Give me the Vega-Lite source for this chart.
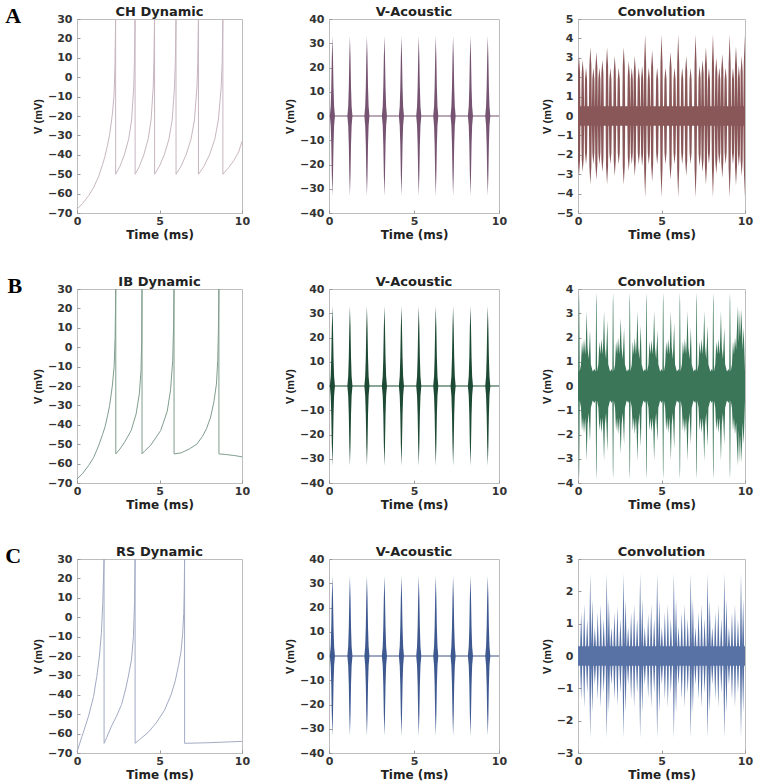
{
"$schema": "https://vega.github.io/schema/vega-lite/v6.json",
"padding": {"left": 5, "top": 4, "right": 5, "bottom": 2},
"background": "white",
"config": {
  "view": {"stroke": "#bdbdbd", "strokeWidth": 1},
  "axis": {"domain": false, "grid": false, "tickSize": -3, "tickColor": "#9a9a9a", "labelFlush": false, "labelOverlap": false,
           "labelFont": "DejaVu Sans", "labelFontWeight": "bold", "labelFontSize": 11, "labelColor": "#333333",
           "titleFont": "DejaVu Sans", "titleFontWeight": "bold", "titleFontSize": 12, "titleColor": "#222222"},
  "axisX": {"labelPadding": 5, "titlePadding": 3},
  "axisY": {"labelPadding": 8, "titlePadding": 4, "titleFont": "Liberation Sans", "titleFontSize": 11},
  "title": {"font": "DejaVu Sans", "fontWeight": "bold", "fontSize": 13, "color": "#222222", "offset": -6}
},
"datasets": {
"ch": [
{"t":0,"v":-68},{"t":0.35,"v":-65},{"t":0.71,"v":-61},{"t":1.0,"v":-57},{"t":1.32,"v":-51},{"t":1.55,"v":-45},{"t":1.69,"v":-41},{"t":1.85,"v":-35},{"t":1.97,"v":-30},{"t":2.13,"v":-20},{"t":2.24,"v":-10},{"t":2.3,"v":5},{"t":2.34,"v":30},
{"t":2.342,"v":-50},{"t":2.6,"v":-46},{"t":2.87,"v":-40},{"t":3.13,"v":-32},{"t":3.31,"v":-22},{"t":3.44,"v":-5},{"t":3.48,"v":8},{"t":3.52,"v":30},
{"t":3.522,"v":-50},{"t":3.78,"v":-46},{"t":4.05,"v":-40},{"t":4.31,"v":-32},{"t":4.49,"v":-22},{"t":4.62,"v":-5},{"t":4.66,"v":8},{"t":4.7,"v":30},
{"t":4.702,"v":-50},{"t":4.99,"v":-46},{"t":5.29,"v":-40},{"t":5.57,"v":-32},{"t":5.77,"v":-22},{"t":5.91,"v":-5},{"t":5.96,"v":8},{"t":6.0,"v":30},
{"t":6.002,"v":-50},{"t":6.3,"v":-46},{"t":6.61,"v":-40},{"t":6.91,"v":-32},{"t":7.12,"v":-22},{"t":7.27,"v":-5},{"t":7.32,"v":8},{"t":7.36,"v":30},
{"t":7.362,"v":-50},{"t":7.69,"v":-46},{"t":8.03,"v":-40},{"t":8.35,"v":-32},{"t":8.57,"v":-22},{"t":8.74,"v":-5},{"t":8.8,"v":8},{"t":8.84,"v":30},
{"t":8.842,"v":-50},{"t":9.2,"v":-46.5},{"t":9.5,"v":-43},{"t":9.8,"v":-38.5},{"t":10,"v":-33}
],
"ib": [
{"t":0,"v":-68},{"t":0.35,"v":-65},{"t":0.7,"v":-61},{"t":1.0,"v":-57},{"t":1.3,"v":-51},{"t":1.55,"v":-45},{"t":1.7,"v":-41},{"t":1.86,"v":-35},{"t":1.98,"v":-30},{"t":2.14,"v":-20},{"t":2.25,"v":-10},{"t":2.31,"v":5},{"t":2.35,"v":30},
{"t":2.352,"v":-55},{"t":2.6,"v":-52.5},{"t":2.88,"v":-49},{"t":3.28,"v":-43},{"t":3.58,"v":-34.5},{"t":3.78,"v":-24},{"t":3.88,"v":-12},{"t":3.92,"v":3},{"t":3.94,"v":30},
{"t":3.942,"v":-55},{"t":4.1,"v":-53.5},{"t":4.47,"v":-50.5},{"t":5.07,"v":-43},{"t":5.47,"v":-33},{"t":5.67,"v":-22},{"t":5.8,"v":-7},{"t":5.85,"v":10},{"t":5.88,"v":30},
{"t":5.882,"v":-55},{"t":6.3,"v":-54.5},{"t":6.8,"v":-52.5},{"t":7.26,"v":-50},{"t":7.6,"v":-46},{"t":7.85,"v":-42},{"t":8.1,"v":-36},{"t":8.3,"v":-28},{"t":8.45,"v":-19},{"t":8.53,"v":-7},{"t":8.57,"v":8},{"t":8.6,"v":30},
{"t":8.602,"v":-55},{"t":9.0,"v":-55.3},{"t":9.5,"v":-55.8},{"t":10,"v":-56.5}
],
"rs": [
{"t":0,"v":-69.5},{"t":0.3,"v":-61.5},{"t":0.7,"v":-51},{"t":1.0,"v":-41},{"t":1.2,"v":-30.5},{"t":1.36,"v":-20},{"t":1.48,"v":-8},{"t":1.56,"v":7},{"t":1.64,"v":30},
{"t":1.642,"v":-65},{"t":1.8,"v":-62},{"t":2.1,"v":-56},{"t":2.4,"v":-51},{"t":2.7,"v":-45},{"t":2.95,"v":-37},{"t":3.1,"v":-31},{"t":3.3,"v":-22},{"t":3.42,"v":-10},{"t":3.49,"v":8},{"t":3.52,"v":30},
{"t":3.522,"v":-65},{"t":3.8,"v":-63},{"t":4.3,"v":-59.5},{"t":4.8,"v":-54.5},{"t":5.3,"v":-48},{"t":5.7,"v":-40},{"t":5.95,"v":-33},{"t":6.15,"v":-25},{"t":6.3,"v":-18},{"t":6.4,"v":-9},{"t":6.47,"v":2},{"t":6.5,"v":14},{"t":6.52,"v":30},
{"t":6.522,"v":-65},{"t":8,"v":-64.7},{"t":10,"v":-64}
],
"ac": [
{"t":0,"h":0,"l":0},
{"t":0.05,"h":0,"l":0},{"t":0.1,"h":4,"l":-4},{"t":0.135,"h":12,"l":-12},{"t":0.165,"h":24,"l":-24},{"t":0.2,"h":33,"l":-33},{"t":0.235,"h":24,"l":-24},{"t":0.265,"h":12,"l":-12},{"t":0.3,"h":4,"l":-4},{"t":0.35,"h":0,"l":0},
{"t":1.08,"h":0,"l":0},{"t":1.13,"h":4,"l":-4},{"t":1.165,"h":12,"l":-12},{"t":1.195,"h":24,"l":-24},{"t":1.23,"h":33,"l":-33},{"t":1.265,"h":24,"l":-24},{"t":1.295,"h":12,"l":-12},{"t":1.33,"h":4,"l":-4},{"t":1.38,"h":0,"l":0},
{"t":2.08,"h":0,"l":0},{"t":2.13,"h":4,"l":-4},{"t":2.165,"h":12,"l":-12},{"t":2.195,"h":24,"l":-24},{"t":2.23,"h":33,"l":-33},{"t":2.265,"h":24,"l":-24},{"t":2.295,"h":12,"l":-12},{"t":2.33,"h":4,"l":-4},{"t":2.38,"h":0,"l":0},
{"t":3.11,"h":0,"l":0},{"t":3.16,"h":4,"l":-4},{"t":3.195,"h":12,"l":-12},{"t":3.225,"h":24,"l":-24},{"t":3.26,"h":33,"l":-33},{"t":3.295,"h":24,"l":-24},{"t":3.325,"h":12,"l":-12},{"t":3.36,"h":4,"l":-4},{"t":3.41,"h":0,"l":0},
{"t":4.11,"h":0,"l":0},{"t":4.16,"h":4,"l":-4},{"t":4.195,"h":12,"l":-12},{"t":4.225,"h":24,"l":-24},{"t":4.26,"h":33,"l":-33},{"t":4.295,"h":24,"l":-24},{"t":4.325,"h":12,"l":-12},{"t":4.36,"h":4,"l":-4},{"t":4.41,"h":0,"l":0},
{"t":5.13,"h":0,"l":0},{"t":5.18,"h":4,"l":-4},{"t":5.215,"h":12,"l":-12},{"t":5.245,"h":24,"l":-24},{"t":5.28,"h":33,"l":-33},{"t":5.315,"h":24,"l":-24},{"t":5.345,"h":12,"l":-12},{"t":5.38,"h":4,"l":-4},{"t":5.43,"h":0,"l":0},
{"t":6.13,"h":0,"l":0},{"t":6.18,"h":4,"l":-4},{"t":6.215,"h":12,"l":-12},{"t":6.245,"h":24,"l":-24},{"t":6.28,"h":33,"l":-33},{"t":6.315,"h":24,"l":-24},{"t":6.345,"h":12,"l":-12},{"t":6.38,"h":4,"l":-4},{"t":6.43,"h":0,"l":0},
{"t":7.15,"h":0,"l":0},{"t":7.2,"h":4,"l":-4},{"t":7.235,"h":12,"l":-12},{"t":7.265,"h":24,"l":-24},{"t":7.3,"h":33,"l":-33},{"t":7.335,"h":24,"l":-24},{"t":7.365,"h":12,"l":-12},{"t":7.4,"h":4,"l":-4},{"t":7.45,"h":0,"l":0},
{"t":8.17,"h":0,"l":0},{"t":8.22,"h":4,"l":-4},{"t":8.255,"h":12,"l":-12},{"t":8.285,"h":24,"l":-24},{"t":8.32,"h":33,"l":-33},{"t":8.355,"h":24,"l":-24},{"t":8.385,"h":12,"l":-12},{"t":8.42,"h":4,"l":-4},{"t":8.47,"h":0,"l":0},
{"t":9.19,"h":0,"l":0},{"t":9.24,"h":4,"l":-4},{"t":9.275,"h":12,"l":-12},{"t":9.305,"h":24,"l":-24},{"t":9.34,"h":33,"l":-33},{"t":9.375,"h":24,"l":-24},{"t":9.405,"h":12,"l":-12},{"t":9.44,"h":4,"l":-4},{"t":9.49,"h":0,"l":0},
{"t":10,"h":0,"l":0}
],
"cvA": [
{"t":0,"h":2.3,"l":-2.3},{"t":0.06,"h":3.1,"l":-3.1},{"t":0.12,"h":2.3,"l":-2.3},{"t":0.145,"h":0.5,"l":-0.5},
{"t":0.195,"h":0.5,"l":-0.5},{"t":0.22,"h":2.2,"l":-2.2},{"t":0.28,"h":2.9,"l":-2.9},{"t":0.34,"h":2.2,"l":-2.2},{"t":0.365,"h":0.5,"l":-0.5},
{"t":0.395,"h":0.5,"l":-0.5},{"t":0.42,"h":1.9,"l":-1.9},{"t":0.48,"h":2.5,"l":-2.5},{"t":0.54,"h":1.9,"l":-1.9},{"t":0.565,"h":0.5,"l":-0.5},
{"t":0.655,"h":0.5,"l":-0.5},{"t":0.68,"h":2.6,"l":-2.6},{"t":0.74,"h":3.55,"l":-3.55},{"t":0.8,"h":2.6,"l":-2.6},{"t":0.825,"h":0.5,"l":-0.5},
{"t":0.835,"h":0.5,"l":-0.5},{"t":0.86,"h":1.9,"l":-1.9},{"t":0.92,"h":2.5,"l":-2.5},{"t":0.98,"h":1.9,"l":-1.9},{"t":1.005,"h":0.5,"l":-0.5},
{"t":1.015,"h":0.5,"l":-0.5},{"t":1.04,"h":2.5,"l":-2.5},{"t":1.1,"h":3.3,"l":-3.3},{"t":1.16,"h":2.5,"l":-2.5},{"t":1.185,"h":0.5,"l":-0.5},
{"t":1.195,"h":0.5,"l":-0.5},{"t":1.22,"h":1.9,"l":-1.9},{"t":1.28,"h":2.5,"l":-2.5},{"t":1.34,"h":1.9,"l":-1.9},{"t":1.365,"h":0.5,"l":-0.5},
{"t":1.375,"h":0.5,"l":-0.5},{"t":1.4,"h":2.2,"l":-2.2},{"t":1.46,"h":2.9,"l":-2.9},{"t":1.52,"h":2.2,"l":-2.2},{"t":1.545,"h":0.5,"l":-0.5},
{"t":1.655,"h":0.5,"l":-0.5},{"t":1.68,"h":2.6,"l":-2.6},{"t":1.74,"h":3.55,"l":-3.55},{"t":1.8,"h":2.6,"l":-2.6},{"t":1.825,"h":0.5,"l":-0.5},
{"t":1.855,"h":0.5,"l":-0.5},{"t":1.88,"h":1.9,"l":-1.9},{"t":1.94,"h":2.5,"l":-2.5},{"t":2.0,"h":1.9,"l":-1.9},{"t":2.025,"h":0.5,"l":-0.5},
{"t":2.115,"h":0.5,"l":-0.5},{"t":2.14,"h":2.3,"l":-2.3},{"t":2.2,"h":3.1,"l":-3.1},{"t":2.26,"h":2.3,"l":-2.3},{"t":2.285,"h":0.5,"l":-0.5},
{"t":2.355,"h":0.5,"l":-0.5},{"t":2.38,"h":1.9,"l":-1.9},{"t":2.44,"h":2.5,"l":-2.5},{"t":2.5,"h":1.9,"l":-1.9},{"t":2.525,"h":0.5,"l":-0.5},
{"t":2.655,"h":0.5,"l":-0.5},{"t":2.68,"h":2.6,"l":-2.6},{"t":2.74,"h":3.55,"l":-3.55},{"t":2.8,"h":2.6,"l":-2.6},{"t":2.825,"h":0.5,"l":-0.5},
{"t":2.955,"h":0.5,"l":-0.5},{"t":2.98,"h":2.1,"l":-2.1},{"t":3.04,"h":2.85,"l":-2.85},{"t":3.1,"h":2.1,"l":-2.1},{"t":3.125,"h":0.5,"l":-0.5},
{"t":3.135,"h":0.5,"l":-0.5},{"t":3.16,"h":1.9,"l":-1.9},{"t":3.22,"h":2.5,"l":-2.5},{"t":3.28,"h":1.9,"l":-1.9},{"t":3.305,"h":0.5,"l":-0.5},
{"t":3.315,"h":0.5,"l":-0.5},{"t":3.34,"h":2.3,"l":-2.3},{"t":3.4,"h":3.1,"l":-3.1},{"t":3.46,"h":2.3,"l":-2.3},{"t":3.485,"h":0.5,"l":-0.5},
{"t":3.555,"h":0.5,"l":-0.5},{"t":3.58,"h":1.9,"l":-1.9},{"t":3.64,"h":2.5,"l":-2.5},{"t":3.7,"h":1.9,"l":-1.9},{"t":3.725,"h":0.5,"l":-0.5},
{"t":3.755,"h":0.5,"l":-0.5},{"t":3.78,"h":1.95,"l":-1.95},{"t":3.84,"h":2.6,"l":-2.6},{"t":3.9,"h":1.95,"l":-1.95},{"t":3.925,"h":0.5,"l":-0.5},
{"t":3.935,"h":0.5,"l":-0.5},{"t":3.96,"h":2.7,"l":-2.7},{"t":4.02,"h":4.2,"l":-4.2},{"t":4.08,"h":2.7,"l":-2.7},{"t":4.105,"h":0.5,"l":-0.5},
{"t":4.155,"h":0.5,"l":-0.5},{"t":4.18,"h":1.9,"l":-1.9},{"t":4.24,"h":2.5,"l":-2.5},{"t":4.3,"h":1.9,"l":-1.9},{"t":4.325,"h":0.5,"l":-0.5},
{"t":4.355,"h":0.5,"l":-0.5},{"t":4.38,"h":2.5,"l":-2.5},{"t":4.44,"h":3.4,"l":-3.4},{"t":4.5,"h":2.5,"l":-2.5},{"t":4.525,"h":0.5,"l":-0.5},
{"t":4.655,"h":0.5,"l":-0.5},{"t":4.68,"h":1.9,"l":-1.9},{"t":4.74,"h":2.5,"l":-2.5},{"t":4.8,"h":1.9,"l":-1.9},{"t":4.825,"h":0.5,"l":-0.5},
{"t":4.915,"h":0.5,"l":-0.5},{"t":4.94,"h":2.7,"l":-2.7},{"t":5.0,"h":4.2,"l":-4.2},{"t":5.06,"h":2.7,"l":-2.7},{"t":5.085,"h":0.5,"l":-0.5},
{"t":5.155,"h":0.5,"l":-0.5},{"t":5.18,"h":1.9,"l":-1.9},{"t":5.24,"h":2.5,"l":-2.5},{"t":5.3,"h":1.9,"l":-1.9},{"t":5.325,"h":0.5,"l":-0.5},
{"t":5.455,"h":0.5,"l":-0.5},{"t":5.48,"h":2.5,"l":-2.5},{"t":5.54,"h":3.3,"l":-3.3},{"t":5.6,"h":2.5,"l":-2.5},{"t":5.625,"h":0.5,"l":-0.5},
{"t":5.695,"h":0.5,"l":-0.5},{"t":5.72,"h":1.9,"l":-1.9},{"t":5.78,"h":2.5,"l":-2.5},{"t":5.84,"h":1.9,"l":-1.9},{"t":5.865,"h":0.5,"l":-0.5},
{"t":5.915,"h":0.5,"l":-0.5},{"t":5.94,"h":2.7,"l":-2.7},{"t":6.0,"h":4.2,"l":-4.2},{"t":6.06,"h":2.7,"l":-2.7},{"t":6.085,"h":0.5,"l":-0.5},
{"t":6.155,"h":0.5,"l":-0.5},{"t":6.18,"h":1.9,"l":-1.9},{"t":6.24,"h":2.5,"l":-2.5},{"t":6.3,"h":1.9,"l":-1.9},{"t":6.325,"h":0.5,"l":-0.5},
{"t":6.395,"h":0.5,"l":-0.5},{"t":6.42,"h":2.3,"l":-2.3},{"t":6.48,"h":3.1,"l":-3.1},{"t":6.54,"h":2.3,"l":-2.3},{"t":6.565,"h":0.5,"l":-0.5},
{"t":6.655,"h":0.5,"l":-0.5},{"t":6.68,"h":1.9,"l":-1.9},{"t":6.74,"h":2.5,"l":-2.5},{"t":6.8,"h":1.9,"l":-1.9},{"t":6.825,"h":0.5,"l":-0.5},
{"t":6.955,"h":0.5,"l":-0.5},{"t":6.98,"h":2.7,"l":-2.7},{"t":7.04,"h":4.2,"l":-4.2},{"t":7.1,"h":2.7,"l":-2.7},{"t":7.125,"h":0.5,"l":-0.5},
{"t":7.195,"h":0.5,"l":-0.5},{"t":7.22,"h":1.95,"l":-1.95},{"t":7.28,"h":2.6,"l":-2.6},{"t":7.34,"h":1.95,"l":-1.95},{"t":7.365,"h":0.5,"l":-0.5},
{"t":7.375,"h":0.5,"l":-0.5},{"t":7.4,"h":2.2,"l":-2.2},{"t":7.46,"h":2.9,"l":-2.9},{"t":7.52,"h":2.2,"l":-2.2},{"t":7.545,"h":0.5,"l":-0.5},
{"t":7.575,"h":0.5,"l":-0.5},{"t":7.6,"h":2.6,"l":-2.6},{"t":7.66,"h":3.55,"l":-3.55},{"t":7.72,"h":2.6,"l":-2.6},{"t":7.745,"h":0.5,"l":-0.5},
{"t":7.755,"h":0.5,"l":-0.5},{"t":7.78,"h":1.9,"l":-1.9},{"t":7.84,"h":2.5,"l":-2.5},{"t":7.9,"h":1.9,"l":-1.9},{"t":7.925,"h":0.5,"l":-0.5},
{"t":7.995,"h":0.5,"l":-0.5},{"t":8.02,"h":2.7,"l":-2.7},{"t":8.08,"h":4.2,"l":-4.2},{"t":8.14,"h":2.7,"l":-2.7},{"t":8.165,"h":0.5,"l":-0.5},
{"t":8.195,"h":0.5,"l":-0.5},{"t":8.22,"h":2.25,"l":-2.25},{"t":8.28,"h":3.0,"l":-3.0},{"t":8.34,"h":2.25,"l":-2.25},{"t":8.365,"h":0.5,"l":-0.5},
{"t":8.375,"h":0.5,"l":-0.5},{"t":8.4,"h":1.9,"l":-1.9},{"t":8.46,"h":2.5,"l":-2.5},{"t":8.52,"h":1.9,"l":-1.9},{"t":8.545,"h":0.5,"l":-0.5},
{"t":8.555,"h":0.5,"l":-0.5},{"t":8.58,"h":2.4,"l":-2.4},{"t":8.64,"h":3.2,"l":-3.2},{"t":8.7,"h":2.4,"l":-2.4},{"t":8.725,"h":0.5,"l":-0.5},
{"t":8.755,"h":0.5,"l":-0.5},{"t":8.78,"h":1.9,"l":-1.9},{"t":8.84,"h":2.5,"l":-2.5},{"t":8.9,"h":1.9,"l":-1.9},{"t":8.925,"h":0.5,"l":-0.5},
{"t":8.995,"h":0.5,"l":-0.5},{"t":9.02,"h":2.7,"l":-2.7},{"t":9.08,"h":4.2,"l":-4.2},{"t":9.14,"h":2.7,"l":-2.7},{"t":9.165,"h":0.5,"l":-0.5},
{"t":9.195,"h":0.5,"l":-0.5},{"t":9.22,"h":1.9,"l":-1.9},{"t":9.28,"h":2.5,"l":-2.5},{"t":9.34,"h":1.9,"l":-1.9},{"t":9.365,"h":0.5,"l":-0.5},
{"t":9.375,"h":0.5,"l":-0.5},{"t":9.4,"h":2.6,"l":-2.6},{"t":9.46,"h":3.6,"l":-3.6},{"t":9.52,"h":2.6,"l":-2.6},{"t":9.545,"h":0.5,"l":-0.5},
{"t":9.55,"h":0.5,"l":-0.5},{"t":9.575,"h":1.95,"l":-1.95},{"t":9.63,"h":2.6,"l":-2.6},{"t":9.69,"h":1.95,"l":-1.95},{"t":9.71,"h":0.5,"l":-0.5},
{"t":9.72,"h":0.5,"l":-0.5},{"t":9.74,"h":2.3,"l":-2.3},{"t":9.8,"h":3.1,"l":-3.1},{"t":9.86,"h":2.3,"l":-2.3},{"t":9.88,"h":0.5,"l":-0.5},
{"t":9.9,"h":0.5,"l":-0.5},{"t":9.93,"h":2.7,"l":-2.7},{"t":9.98,"h":4.2,"l":-4.2},{"t":10,"h":3.0,"l":-3.0}
],
"cvB": [
{"t":0,"h":0.6,"l":-0.6},{"t":0.015,"h":0.6,"l":-0.6},{"t":0.045,"h":3.4,"l":-3.4},{"t":0.06,"h":3.85,"l":-3.85},{"t":0.075,"h":3.4,"l":-3.4},{"t":0.105,"h":0.6,"l":-0.6},{"t":0.18,"h":0.9,"l":-0.9},{"t":0.24,"h":1.85,"l":-1.85},{"t":0.3,"h":1.3,"l":-1.3},{"t":0.36,"h":1.95,"l":-1.95},{"t":0.43,"h":1.3,"l":-1.3},{"t":0.47,"h":1.8,"l":-1.8},{"t":0.52,"h":3.1,"l":-3.1},{"t":0.57,"h":1.6,"l":-1.6},{"t":0.64,"h":1.1,"l":-1.1},{"t":0.72,"h":2.3,"l":-2.3},{"t":0.77,"h":0.9,"l":-0.9},{"t":0.88,"h":0.6,"l":-0.6},{"t":0.98,"h":0.7,"l":-0.7},
{"t":1.055,"h":0.6,"l":-0.6},{"t":1.085,"h":3.4,"l":-3.4},{"t":1.1,"h":3.85,"l":-3.85},{"t":1.115,"h":3.4,"l":-3.4},{"t":1.145,"h":0.6,"l":-0.6},{"t":1.22,"h":0.9,"l":-0.9},{"t":1.28,"h":1.85,"l":-1.85},{"t":1.34,"h":1.3,"l":-1.3},{"t":1.4,"h":1.95,"l":-1.95},{"t":1.47,"h":1.3,"l":-1.3},{"t":1.51,"h":1.8,"l":-1.8},{"t":1.56,"h":3.1,"l":-3.1},{"t":1.61,"h":1.6,"l":-1.6},{"t":1.68,"h":1.1,"l":-1.1},{"t":1.76,"h":2.7,"l":-2.7},{"t":1.81,"h":0.9,"l":-0.9},{"t":1.92,"h":0.6,"l":-0.6},{"t":2.02,"h":0.7,"l":-0.7},
{"t":2.055,"h":0.6,"l":-0.6},{"t":2.085,"h":3.4,"l":-3.4},{"t":2.1,"h":3.85,"l":-3.85},{"t":2.115,"h":3.4,"l":-3.4},{"t":2.145,"h":0.6,"l":-0.6},{"t":2.22,"h":0.9,"l":-0.9},{"t":2.28,"h":1.85,"l":-1.85},{"t":2.34,"h":1.3,"l":-1.3},{"t":2.4,"h":2.0,"l":-2.0},{"t":2.47,"h":1.3,"l":-1.3},{"t":2.51,"h":1.8,"l":-1.8},{"t":2.56,"h":2.8,"l":-2.8},{"t":2.61,"h":1.6,"l":-1.6},{"t":2.68,"h":1.1,"l":-1.1},{"t":2.76,"h":2.4,"l":-2.4},{"t":2.81,"h":0.9,"l":-0.9},{"t":2.92,"h":0.6,"l":-0.6},{"t":3.02,"h":0.7,"l":-0.7},
{"t":3.055,"h":0.6,"l":-0.6},{"t":3.085,"h":3.4,"l":-3.4},{"t":3.1,"h":3.85,"l":-3.85},{"t":3.115,"h":3.4,"l":-3.4},{"t":3.145,"h":0.6,"l":-0.6},{"t":3.22,"h":0.9,"l":-0.9},{"t":3.28,"h":1.85,"l":-1.85},{"t":3.34,"h":1.3,"l":-1.3},{"t":3.4,"h":2.0,"l":-2.0},{"t":3.47,"h":1.3,"l":-1.3},{"t":3.51,"h":1.8,"l":-1.8},{"t":3.56,"h":3.1,"l":-3.1},{"t":3.61,"h":1.6,"l":-1.6},{"t":3.68,"h":1.1,"l":-1.1},{"t":3.76,"h":2.5,"l":-2.5},{"t":3.81,"h":0.9,"l":-0.9},{"t":3.92,"h":0.6,"l":-0.6},{"t":4.02,"h":0.7,"l":-0.7},
{"t":4.055,"h":0.6,"l":-0.6},{"t":4.085,"h":3.4,"l":-3.4},{"t":4.1,"h":3.85,"l":-3.85},{"t":4.115,"h":3.4,"l":-3.4},{"t":4.145,"h":0.6,"l":-0.6},{"t":4.22,"h":0.9,"l":-0.9},{"t":4.28,"h":1.85,"l":-1.85},{"t":4.34,"h":1.3,"l":-1.3},{"t":4.4,"h":1.9,"l":-1.9},{"t":4.47,"h":1.3,"l":-1.3},{"t":4.51,"h":1.8,"l":-1.8},{"t":4.56,"h":3.1,"l":-3.1},{"t":4.61,"h":1.6,"l":-1.6},{"t":4.68,"h":1.1,"l":-1.1},{"t":4.76,"h":2.3,"l":-2.3},{"t":4.81,"h":0.9,"l":-0.9},{"t":4.92,"h":0.6,"l":-0.6},{"t":5.02,"h":0.7,"l":-0.7},
{"t":5.055,"h":0.6,"l":-0.6},{"t":5.085,"h":3.4,"l":-3.4},{"t":5.1,"h":3.85,"l":-3.85},{"t":5.115,"h":3.4,"l":-3.4},{"t":5.145,"h":0.6,"l":-0.6},{"t":5.22,"h":0.9,"l":-0.9},{"t":5.28,"h":1.85,"l":-1.85},{"t":5.34,"h":1.3,"l":-1.3},{"t":5.4,"h":1.95,"l":-1.95},{"t":5.47,"h":1.3,"l":-1.3},{"t":5.51,"h":1.8,"l":-1.8},{"t":5.56,"h":3.1,"l":-3.1},{"t":5.61,"h":1.6,"l":-1.6},{"t":5.68,"h":1.1,"l":-1.1},{"t":5.76,"h":2.6,"l":-2.6},{"t":5.81,"h":0.9,"l":-0.9},{"t":5.92,"h":0.6,"l":-0.6},{"t":6.02,"h":0.7,"l":-0.7},
{"t":6.055,"h":0.6,"l":-0.6},{"t":6.085,"h":3.4,"l":-3.4},{"t":6.1,"h":3.85,"l":-3.85},{"t":6.115,"h":3.4,"l":-3.4},{"t":6.145,"h":0.6,"l":-0.6},{"t":6.22,"h":0.9,"l":-0.9},{"t":6.28,"h":1.85,"l":-1.85},{"t":6.34,"h":1.3,"l":-1.3},{"t":6.4,"h":1.95,"l":-1.95},{"t":6.47,"h":1.3,"l":-1.3},{"t":6.51,"h":1.8,"l":-1.8},{"t":6.56,"h":3.1,"l":-3.1},{"t":6.61,"h":1.6,"l":-1.6},{"t":6.68,"h":1.1,"l":-1.1},{"t":6.76,"h":2.4,"l":-2.4},{"t":6.81,"h":0.9,"l":-0.9},{"t":6.92,"h":0.6,"l":-0.6},{"t":7.02,"h":0.7,"l":-0.7},
{"t":7.055,"h":0.6,"l":-0.6},{"t":7.085,"h":3.4,"l":-3.4},{"t":7.1,"h":3.85,"l":-3.85},{"t":7.115,"h":3.4,"l":-3.4},{"t":7.145,"h":0.6,"l":-0.6},{"t":7.22,"h":0.9,"l":-0.9},{"t":7.28,"h":1.85,"l":-1.85},{"t":7.34,"h":1.3,"l":-1.3},{"t":7.4,"h":1.95,"l":-1.95},{"t":7.47,"h":1.3,"l":-1.3},{"t":7.51,"h":1.8,"l":-1.8},{"t":7.56,"h":3.1,"l":-3.1},{"t":7.61,"h":1.6,"l":-1.6},{"t":7.68,"h":1.1,"l":-1.1},{"t":7.76,"h":2.5,"l":-2.5},{"t":7.81,"h":0.9,"l":-0.9},{"t":7.92,"h":0.6,"l":-0.6},{"t":8.02,"h":0.7,"l":-0.7},
{"t":8.055,"h":0.6,"l":-0.6},{"t":8.085,"h":3.4,"l":-3.4},{"t":8.1,"h":3.85,"l":-3.85},{"t":8.115,"h":3.4,"l":-3.4},{"t":8.145,"h":0.6,"l":-0.6},{"t":8.22,"h":0.9,"l":-0.9},{"t":8.28,"h":1.85,"l":-1.85},{"t":8.34,"h":1.3,"l":-1.3},{"t":8.4,"h":1.95,"l":-1.95},{"t":8.47,"h":1.3,"l":-1.3},{"t":8.51,"h":1.8,"l":-1.8},{"t":8.56,"h":3.1,"l":-3.1},{"t":8.61,"h":1.6,"l":-1.6},{"t":8.68,"h":1.1,"l":-1.1},{"t":8.76,"h":2.4,"l":-2.4},{"t":8.81,"h":0.9,"l":-0.9},{"t":8.92,"h":0.6,"l":-0.6},{"t":9.02,"h":0.7,"l":-0.7},
{"t":9.055,"h":0.6,"l":-0.6},{"t":9.085,"h":3.4,"l":-3.4},{"t":9.1,"h":3.85,"l":-3.85},{"t":9.115,"h":3.4,"l":-3.4},{"t":9.145,"h":0.6,"l":-0.6},{"t":9.22,"h":0.9,"l":-0.9},{"t":9.28,"h":1.85,"l":-1.85},{"t":9.34,"h":1.3,"l":-1.3},{"t":9.4,"h":2.0,"l":-2.0},{"t":9.47,"h":1.5,"l":-1.5},{"t":9.52,"h":2.4,"l":-2.4},{"t":9.58,"h":3.3,"l":-3.3},{"t":9.63,"h":1.8,"l":-1.8},{"t":9.7,"h":3.15,"l":-3.15},{"t":9.74,"h":2.0,"l":-2.0},{"t":9.8,"h":3.2,"l":-3.2},{"t":9.85,"h":1.5,"l":-1.5},{"t":9.92,"h":2.4,"l":-2.4},{"t":10,"h":0.6,"l":-0.6}
],
"cvC": [
{"t":0,"h":0.3,"l":-0.3},
{"t":0.13,"h":0.3,"l":-0.3},{"t":0.19,"h":1.35,"l":-1.35},{"t":0.25,"h":0.3,"l":-0.3},{"t":0.31,"h":0.3,"l":-0.3},{"t":0.37,"h":1.6,"l":-1.6},{"t":0.43,"h":0.3,"l":-0.3},{"t":0.49,"h":0.3,"l":-0.3},{"t":0.55,"h":1.15,"l":-1.15},{"t":0.61,"h":0.3,"l":-0.3},{"t":0.67,"h":0.3,"l":-0.3},{"t":0.73,"h":2.55,"l":-2.55},{"t":0.795,"h":0.3,"l":-0.3},{"t":0.86,"h":1.75,"l":-1.75},{"t":0.92,"h":0.3,"l":-0.3},{"t":0.95,"h":0.3,"l":-0.3},{"t":1.01,"h":0.9,"l":-0.9},{"t":1.07,"h":0.3,"l":-0.3},
{"t":1.12,"h":0.3,"l":-0.3},{"t":1.18,"h":1.35,"l":-1.35},{"t":1.24,"h":0.3,"l":-0.3},{"t":1.3,"h":0.3,"l":-0.3},{"t":1.36,"h":1.6,"l":-1.6},{"t":1.42,"h":0.3,"l":-0.3},{"t":1.48,"h":0.3,"l":-0.3},{"t":1.54,"h":1.15,"l":-1.15},{"t":1.6,"h":0.3,"l":-0.3},{"t":1.66,"h":0.3,"l":-0.3},{"t":1.72,"h":2.55,"l":-2.55},{"t":1.785,"h":0.3,"l":-0.3},{"t":1.85,"h":1.75,"l":-1.75},{"t":1.91,"h":0.3,"l":-0.3},{"t":1.94,"h":0.3,"l":-0.3},{"t":2.0,"h":0.9,"l":-0.9},{"t":2.06,"h":0.3,"l":-0.3},
{"t":2.12,"h":0.3,"l":-0.3},{"t":2.18,"h":1.35,"l":-1.35},{"t":2.24,"h":0.3,"l":-0.3},{"t":2.3,"h":0.3,"l":-0.3},{"t":2.36,"h":1.55,"l":-1.55},{"t":2.42,"h":0.3,"l":-0.3},{"t":2.48,"h":0.3,"l":-0.3},{"t":2.54,"h":1.15,"l":-1.15},{"t":2.6,"h":0.3,"l":-0.3},{"t":2.66,"h":0.3,"l":-0.3},{"t":2.72,"h":2.55,"l":-2.55},{"t":2.785,"h":0.3,"l":-0.3},{"t":2.85,"h":1.75,"l":-1.75},{"t":2.91,"h":0.3,"l":-0.3},{"t":2.94,"h":0.3,"l":-0.3},{"t":3.0,"h":0.9,"l":-0.9},{"t":3.06,"h":0.3,"l":-0.3},
{"t":3.12,"h":0.3,"l":-0.3},{"t":3.18,"h":1.35,"l":-1.35},{"t":3.24,"h":0.3,"l":-0.3},{"t":3.3,"h":0.3,"l":-0.3},{"t":3.36,"h":1.6,"l":-1.6},{"t":3.42,"h":0.3,"l":-0.3},{"t":3.48,"h":0.3,"l":-0.3},{"t":3.54,"h":1.15,"l":-1.15},{"t":3.6,"h":0.3,"l":-0.3},{"t":3.66,"h":0.3,"l":-0.3},{"t":3.72,"h":2.55,"l":-2.55},{"t":3.785,"h":0.3,"l":-0.3},{"t":3.85,"h":1.75,"l":-1.75},{"t":3.91,"h":0.3,"l":-0.3},{"t":3.94,"h":0.3,"l":-0.3},{"t":4.0,"h":0.9,"l":-0.9},{"t":4.06,"h":0.3,"l":-0.3},
{"t":4.14,"h":0.3,"l":-0.3},{"t":4.2,"h":1.3,"l":-1.3},{"t":4.26,"h":0.3,"l":-0.3},{"t":4.32,"h":0.3,"l":-0.3},{"t":4.38,"h":1.6,"l":-1.6},{"t":4.44,"h":0.3,"l":-0.3},{"t":4.5,"h":0.3,"l":-0.3},{"t":4.56,"h":1.15,"l":-1.15},{"t":4.62,"h":0.3,"l":-0.3},{"t":4.68,"h":0.3,"l":-0.3},{"t":4.74,"h":2.55,"l":-2.55},{"t":4.805,"h":0.3,"l":-0.3},{"t":4.87,"h":1.75,"l":-1.75},{"t":4.93,"h":0.3,"l":-0.3},{"t":4.96,"h":0.3,"l":-0.3},{"t":5.02,"h":0.9,"l":-0.9},{"t":5.08,"h":0.3,"l":-0.3},
{"t":5.14,"h":0.3,"l":-0.3},{"t":5.2,"h":1.35,"l":-1.35},{"t":5.26,"h":0.3,"l":-0.3},{"t":5.32,"h":0.3,"l":-0.3},{"t":5.38,"h":1.6,"l":-1.6},{"t":5.44,"h":0.3,"l":-0.3},{"t":5.5,"h":0.3,"l":-0.3},{"t":5.56,"h":1.15,"l":-1.15},{"t":5.62,"h":0.3,"l":-0.3},{"t":5.68,"h":0.3,"l":-0.3},{"t":5.74,"h":2.55,"l":-2.55},{"t":5.805,"h":0.3,"l":-0.3},{"t":5.87,"h":1.75,"l":-1.75},{"t":5.93,"h":0.3,"l":-0.3},{"t":5.96,"h":0.3,"l":-0.3},{"t":6.02,"h":0.9,"l":-0.9},{"t":6.08,"h":0.3,"l":-0.3},
{"t":6.15,"h":0.3,"l":-0.3},{"t":6.21,"h":1.35,"l":-1.35},{"t":6.27,"h":0.3,"l":-0.3},{"t":6.33,"h":0.3,"l":-0.3},{"t":6.39,"h":1.6,"l":-1.6},{"t":6.45,"h":0.3,"l":-0.3},{"t":6.51,"h":0.3,"l":-0.3},{"t":6.57,"h":1.15,"l":-1.15},{"t":6.63,"h":0.3,"l":-0.3},{"t":6.69,"h":0.3,"l":-0.3},{"t":6.75,"h":2.55,"l":-2.55},{"t":6.815,"h":0.3,"l":-0.3},{"t":6.88,"h":1.75,"l":-1.75},{"t":6.94,"h":0.3,"l":-0.3},{"t":6.97,"h":0.3,"l":-0.3},{"t":7.03,"h":0.9,"l":-0.9},{"t":7.09,"h":0.3,"l":-0.3},
{"t":7.16,"h":0.3,"l":-0.3},{"t":7.22,"h":1.35,"l":-1.35},{"t":7.28,"h":0.3,"l":-0.3},{"t":7.34,"h":0.3,"l":-0.3},{"t":7.4,"h":1.6,"l":-1.6},{"t":7.46,"h":0.3,"l":-0.3},{"t":7.52,"h":0.3,"l":-0.3},{"t":7.58,"h":1.15,"l":-1.15},{"t":7.64,"h":0.3,"l":-0.3},{"t":7.7,"h":0.3,"l":-0.3},{"t":7.76,"h":2.55,"l":-2.55},{"t":7.825,"h":0.3,"l":-0.3},{"t":7.89,"h":1.75,"l":-1.75},{"t":7.95,"h":0.3,"l":-0.3},{"t":7.98,"h":0.3,"l":-0.3},{"t":8.04,"h":0.9,"l":-0.9},{"t":8.1,"h":0.3,"l":-0.3},
{"t":8.16,"h":0.3,"l":-0.3},{"t":8.22,"h":1.35,"l":-1.35},{"t":8.28,"h":0.3,"l":-0.3},{"t":8.34,"h":0.3,"l":-0.3},{"t":8.4,"h":1.6,"l":-1.6},{"t":8.46,"h":0.3,"l":-0.3},{"t":8.52,"h":0.3,"l":-0.3},{"t":8.58,"h":1.15,"l":-1.15},{"t":8.64,"h":0.3,"l":-0.3},{"t":8.7,"h":0.3,"l":-0.3},{"t":8.76,"h":2.55,"l":-2.55},{"t":8.825,"h":0.3,"l":-0.3},{"t":8.89,"h":1.75,"l":-1.75},{"t":8.95,"h":0.3,"l":-0.3},{"t":8.98,"h":0.3,"l":-0.3},{"t":9.04,"h":0.9,"l":-0.9},{"t":9.1,"h":0.3,"l":-0.3},
{"t":9.16,"h":0.3,"l":-0.3},{"t":9.22,"h":1.35,"l":-1.35},{"t":9.28,"h":0.3,"l":-0.3},{"t":9.34,"h":0.3,"l":-0.3},{"t":9.4,"h":1.6,"l":-1.6},{"t":9.46,"h":0.3,"l":-0.3},{"t":9.52,"h":0.3,"l":-0.3},{"t":9.58,"h":1.15,"l":-1.15},{"t":9.64,"h":0.3,"l":-0.3},{"t":9.7,"h":0.3,"l":-0.3},{"t":9.76,"h":2.55,"l":-2.55},{"t":9.825,"h":0.3,"l":-0.3},{"t":9.89,"h":1.75,"l":-1.75},{"t":9.95,"h":0.3,"l":-0.3},{"t":10,"h":0.3,"l":-0.3}
]
},
"spacing": 33,
"vconcat": [
{
 "title": {"text": "A", "orient": "left", "anchor": "end", "angle": 0, "baseline": "top", "font": "Liberation Serif", "fontSize": 22, "fontWeight": "bold", "color": "#000000", "offset": -5},
 "spacing": 32,
 "hconcat": [
  {"title": "CH Dynamic", "width": 165, "height": 194, "data": {"name": "ch"},
   "mark": {"type": "line", "color": "#c8b6c1", "strokeWidth": 1},
   "encoding": {
    "x": {"field": "t", "type": "quantitative", "scale": {"domain": [0, 10], "nice": false}, "axis": {"values": [0, 5, 10], "title": "Time (ms)"}},
    "y": {"field": "v", "type": "quantitative", "scale": {"domain": [-70, 30], "nice": false}, "axis": {"values": [-70, -60, -50, -40, -30, -20, -10, 0, 10, 20, 30], "title": "V (mV)"}}}},
  {"title": "V-Acoustic", "width": 170, "height": 194, "data": {"name": "ac"},
   "layer": [
    {"mark": {"type": "rule", "color": "#b9a8b6", "strokeWidth": 1}, "encoding": {"y": {"datum": 0, "type": "quantitative", "scale": {"domain": [-40, 40], "nice": false}, "axis": {"values": [-40, -30, -20, -10, 0, 10, 20, 30, 40], "title": "V (mV)"}}}},
    {"mark": {"type": "area", "color": "#775372"},
     "encoding": {
      "x": {"field": "t", "type": "quantitative", "scale": {"domain": [0, 10], "nice": false}, "axis": {"values": [0, 5, 10], "title": "Time (ms)"}},
      "y": {"field": "h", "type": "quantitative", "scale": {"domain": [-40, 40], "nice": false}, "axis": {"values": [-40, -30, -20, -10, 0, 10, 20, 30, 40], "title": "V (mV)"}},
      "y2": {"field": "l"}}}
   ]},
  {"title": "Convolution", "width": 167, "height": 194, "data": {"name": "cvA"},
   "mark": {"type": "area", "color": "#8a5759"},
   "encoding": {
    "x": {"field": "t", "type": "quantitative", "scale": {"domain": [0, 10], "nice": false}, "axis": {"values": [0, 5, 10], "title": "Time (ms)"}},
    "y": {"field": "h", "type": "quantitative", "scale": {"domain": [-5, 5], "nice": false}, "axis": {"values": [-5, -4, -3, -2, -1, 0, 1, 2, 3, 4, 5], "title": "V (mV)"}},
    "y2": {"field": "l"}}}
 ]
},
{
 "title": {"text": "B", "orient": "left", "anchor": "end", "angle": 0, "baseline": "top", "font": "Liberation Serif", "fontSize": 22, "fontWeight": "bold", "color": "#000000", "offset": -5},
 "spacing": 32,
 "hconcat": [
  {"title": "IB Dynamic", "width": 165, "height": 194, "data": {"name": "ib"},
   "mark": {"type": "line", "color": "#809e8e", "strokeWidth": 1},
   "encoding": {
    "x": {"field": "t", "type": "quantitative", "scale": {"domain": [0, 10], "nice": false}, "axis": {"values": [0, 5, 10], "title": "Time (ms)"}},
    "y": {"field": "v", "type": "quantitative", "scale": {"domain": [-70, 30], "nice": false}, "axis": {"values": [-70, -60, -50, -40, -30, -20, -10, 0, 10, 20, 30], "title": "V (mV)"}}}},
  {"title": "V-Acoustic", "width": 170, "height": 194, "data": {"name": "ac"},
   "layer": [
    {"mark": {"type": "rule", "color": "#8aa596", "strokeWidth": 1}, "encoding": {"y": {"datum": 0, "type": "quantitative", "scale": {"domain": [-40, 40], "nice": false}, "axis": {"values": [-40, -30, -20, -10, 0, 10, 20, 30, 40], "title": "V (mV)"}}}},
    {"mark": {"type": "area", "color": "#1d4a34"},
     "encoding": {
      "x": {"field": "t", "type": "quantitative", "scale": {"domain": [0, 10], "nice": false}, "axis": {"values": [0, 5, 10], "title": "Time (ms)"}},
      "y": {"field": "h", "type": "quantitative", "scale": {"domain": [-40, 40], "nice": false}, "axis": {"values": [-40, -30, -20, -10, 0, 10, 20, 30, 40], "title": "V (mV)"}},
      "y2": {"field": "l"}}}
   ]},
  {"title": "Convolution", "width": 167, "height": 194, "data": {"name": "cvB"},
   "mark": {"type": "area", "color": "#3b7658"},
   "encoding": {
    "x": {"field": "t", "type": "quantitative", "scale": {"domain": [0, 10], "nice": false}, "axis": {"values": [0, 5, 10], "title": "Time (ms)"}},
    "y": {"field": "h", "type": "quantitative", "scale": {"domain": [-4, 4], "nice": false}, "axis": {"values": [-4, -3, -2, -1, 0, 1, 2, 3, 4], "title": "V (mV)"}},
    "y2": {"field": "l"}}}
 ]
},
{
 "title": {"text": "C", "orient": "left", "anchor": "end", "angle": 0, "baseline": "top", "font": "Liberation Serif", "fontSize": 22, "fontWeight": "bold", "color": "#000000", "offset": -5},
 "spacing": 32,
 "hconcat": [
  {"title": "RS Dynamic", "width": 165, "height": 194, "data": {"name": "rs"},
   "mark": {"type": "line", "color": "#a2abc4", "strokeWidth": 1},
   "encoding": {
    "x": {"field": "t", "type": "quantitative", "scale": {"domain": [0, 10], "nice": false}, "axis": {"values": [0, 5, 10], "title": "Time (ms)"}},
    "y": {"field": "v", "type": "quantitative", "scale": {"domain": [-70, 30], "nice": false}, "axis": {"values": [-70, -60, -50, -40, -30, -20, -10, 0, 10, 20, 30], "title": "V (mV)"}}}},
  {"title": "V-Acoustic", "width": 170, "height": 194, "data": {"name": "ac"},
   "layer": [
    {"mark": {"type": "rule", "color": "#9ea8c2", "strokeWidth": 1}, "encoding": {"y": {"datum": 0, "type": "quantitative", "scale": {"domain": [-40, 40], "nice": false}, "axis": {"values": [-40, -30, -20, -10, 0, 10, 20, 30, 40], "title": "V (mV)"}}}},
    {"mark": {"type": "area", "color": "#3e5990"},
     "encoding": {
      "x": {"field": "t", "type": "quantitative", "scale": {"domain": [0, 10], "nice": false}, "axis": {"values": [0, 5, 10], "title": "Time (ms)"}},
      "y": {"field": "h", "type": "quantitative", "scale": {"domain": [-40, 40], "nice": false}, "axis": {"values": [-40, -30, -20, -10, 0, 10, 20, 30, 40], "title": "V (mV)"}},
      "y2": {"field": "l"}}}
   ]},
  {"title": "Convolution", "width": 167, "height": 194, "data": {"name": "cvC"},
   "mark": {"type": "area", "color": "#5872a6"},
   "encoding": {
    "x": {"field": "t", "type": "quantitative", "scale": {"domain": [0, 10], "nice": false}, "axis": {"values": [0, 5, 10], "title": "Time (ms)"}},
    "y": {"field": "h", "type": "quantitative", "scale": {"domain": [-3, 3], "nice": false}, "axis": {"values": [-3, -2, -1, 0, 1, 2, 3], "title": "V (mV)"}},
    "y2": {"field": "l"}}}
 ]
}
]
}
